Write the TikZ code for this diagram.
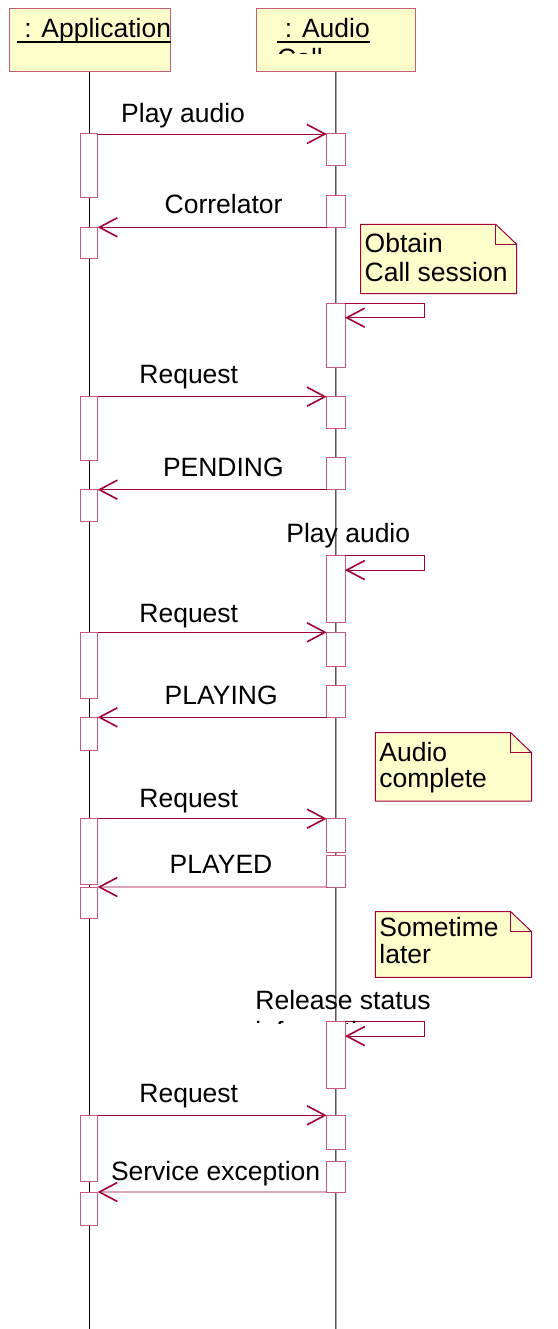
\documentclass[tikz,border=0pt]{standalone}
\usepackage{fontspec}
\setmainfont{Liberation Sans}
\usetikzlibrary{arrows.meta}

\definecolor{umlred}{HTML}{A0003C}
\definecolor{umlpink}{HTML}{C85A7C}
\definecolor{umlyellow}{HTML}{FFFFCC}

\tikzset{
  lbl/.style={font=\fontsize{26.5}{27}\selectfont, inner sep=0pt, anchor=base west},
  head/.style={draw=umlpink, fill=umlyellow, line width=1pt, inner sep=0pt, outer sep=0pt, anchor=north west},
  act/.style={draw=umlpink, fill=white, line width=1pt, inner sep=0pt, outer sep=0pt, anchor=north},
  msg/.style={draw=umlred, line width=0.9pt, -{Straight Barb[length=18pt, width=19pt, line width=1.6pt]}},
  notebox/.style={inner sep=0pt, outer sep=0pt, anchor=north west},
  noteline/.style={draw=umlred, fill=umlyellow, line width=1pt, line join=miter},
}

\begin{document}
\begin{tikzpicture}[x=1pt, y=-1pt]
  \useasboundingbox (0,0) rectangle (557,1329);

  % Draw the lifeline heads
  \node[head, minimum width=161pt, minimum height=63pt] (apphead) at (9,9) {};
  \node[head, minimum width=158.3pt, minimum height=63pt] (audiohead) at (256.7,9) {};

  \node[lbl] (apptitle) at (16.7,37.3) {\ : Application};
  \node[lbl] (audiotitle) at (277.3,37.3) {\ : Audio};
  \draw[line width=1.8pt] ([yshift=-4.7pt]apptitle.base west) -- ([yshift=-4.7pt]apptitle.base east);
  \draw[line width=1.8pt] ([yshift=-4.7pt]audiotitle.base west) -- ([yshift=-4.7pt]audiotitle.base east);
  \begin{scope}
    \clip (256.7,9) rectangle (415,53.3);
    \node[lbl] (audiotitlecut) at (277,67.3) {Call};
  \end{scope}

  % Draw the lifelines
  \coordinate (append) at (89.5,1329);
  \coordinate (audioend) at (335.85,1329);
  \draw[line width=1pt] (apphead.south) -- (append);
  \draw[line width=1pt] (audiohead.south) -- (audioend);

  % Draw the activation boxes
  \foreach \name/\top/\bot in {a1/134/197.3, a2/227.3/259, a3/396.7/460.3, a4/489.7/521,
      a5/632.3/698.3, a6/717.3/750, a7/818.7/884.3, a8/887/918.7, a9/1115.3/1181, a10/1192/1225.5} {
      \node[act, minimum width=16.7pt, minimum height={(\bot-\top)*1pt}] (\name) at (89.3,\top) {};
    }
  \foreach \name/\top/\bot in {b1/134/166, b2/195.7/227.3, b3/303.3/367, b4/396.7/428.3,
      b5/457.7/489.7, b6/555.7/622, b7/632.3/666.3, b8/685.7/717.3, b9/818.7/852.3,
      b10/855.3/887, b11/1021.7/1088, b12/1115.3/1149.3, b13/1161.3/1192} {
      \node[act, minimum width=18.3pt, minimum height={(\bot-\top)*1pt}] (\name) at (335.85,\top) {};
    }

  % Draw the messages
  \draw[msg] (a1.north east) -- (b1.north west);
  \draw[msg] (b2.south west) -- (a2.north east);
  \draw[msg] (a3.north east) -- (b4.north west);
  \draw[msg] (b5.south west) -- (a4.north east);
  \draw[msg] (a5.north east) -- (b7.north west);
  \draw[msg] (b8.south west) -- (a6.north east);
  \draw[msg] (a7.north east) -- (b9.north west);
  \draw[msg] (b10.south west) -- (a8.north east);
  \draw[msg] (a9.north east) -- (b12.north west);
  \draw[msg] (b13.south west) -- (a10.north east);

  % Self messages
  \foreach \s in {b3,b6,b11} {
      \draw[msg] (\s.north east) -- ++(79.7,0) -- ++(0,14.4) -- ++(-79.7,0);
    }

  % Message labels
  \node[lbl] (m1) at (121,122.7) {Play audio};
  \node[lbl] (m2) at (164.5,214) {Correlator};
  \node[lbl] (m3) at (139.2,383.3) {Request};
  \node[lbl] (m4) at (162.8,476.7) {PENDING};
  \node[lbl] (m5) at (286.2,542.5) {Play audio};
  \node[lbl] (m6) at (139.2,622.7) {Request};
  \node[lbl] (m7) at (164.5,704) {PLAYING};
  \node[lbl] (m8) at (139.2,807.3) {Request};
  \node[lbl] (m9) at (169.5,873.3) {PLAYED};
  \node[lbl] (m10) at (255.2,1009.3) {Release status};
  \node[lbl] (m11) at (139.2,1102.7) {Request};
  \node[lbl] (m12) at (110.8,1180.7) {Service exception};
  \begin{scope}
    \clip (250,1012) rectangle (440,1023.5);
    \node[lbl] (m10cut) at (255.2,1040) {information};
  \end{scope}

  % Draw the notes
  \foreach \n/\x/\y/\w/\h in {n1/360.7/224.3/156/69.4, n2/375.3/732.7/156.4/68.3, n3/375.3/911.7/156.4/65.6} {
      \node[notebox, minimum width=\w pt, minimum height=\h pt] (\n) at (\x,\y) {};
      \draw[noteline] (\n.south west) -- (\n.north west) -- ([xshift=-21pt]\n.north east)
        -- ([yshift=-20pt]\n.north east) -- (\n.south east) -- cycle;
      \draw[noteline, fill=none] ([xshift=-21pt]\n.north east) -- ([xshift=-21pt,yshift=-20pt]\n.north east)
        -- ([yshift=-20pt]\n.north east);
    }
  \node[lbl] (t1a) at (364.5,253) {Obtain};
  \node[lbl] (t1b) at (364.5,281.7) {Call session};
  \node[lbl] (t2a) at (379.2,761.7) {Audio};
  \node[lbl] (t2b) at (379.2,787.7) {complete};
  \node[lbl] (t3a) at (379.2,936.7) {Sometime};
  \node[lbl] (t3b) at (379.2,963) {later};
\end{tikzpicture}
\end{document}
